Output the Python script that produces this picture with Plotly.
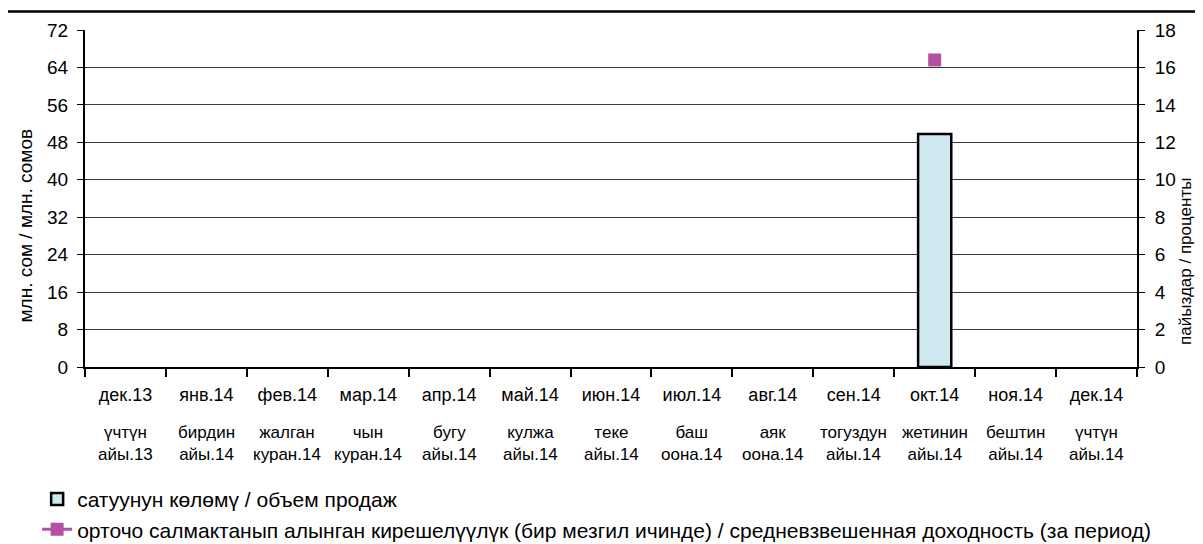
import plotly.graph_objects as go

# Monthly sales volume and weighted average yield
months_ru = ["дек.13", "янв.14", "фев.14", "мар.14", "апр.14", "май.14", "июн.14",
             "июл.14", "авг.14", "сен.14", "окт.14", "ноя.14", "дек.14"]
months_kg = ["үчтүн<br>айы.13", "бирдин<br>айы.14", "жалган<br>куран.14", "чын<br>куран.14",
             "бугу<br>айы.14", "кулжа<br>айы.14", "теке<br>айы.14", "баш<br>оона.14",
             "аяк<br>оона.14", "тогуздун<br>айы.14", "жетинин<br>айы.14", "бештин<br>айы.14",
             "үчтүн<br>айы.14"]
sales_volume = [None, None, None, None, None, None, None, None, None, None, 49.8, None, None]
avg_yield = [None, None, None, None, None, None, None, None, None, None, 16.4, None, None]

name_sales = "сатуунун көлөмү / объем продаж"
name_yield = ("орточо салмактанып алынган кирешелүүлүк (бир мезгил ичинде) / "
              "средневзвешенная доходность (за период)")

FONT = "Liberation Sans, Arial, sans-serif"

fig = go.Figure()

fig.add_trace(go.Bar(
    x=months_ru, y=sales_volume, name=name_sales,
    marker=dict(color="#CDE9EF", line=dict(color="#000000", width=2.5)),
))

fig.add_trace(go.Scatter(
    x=months_ru, y=avg_yield, name=name_yield, yaxis="y2",
    mode="lines+markers",
    line=dict(color="#B54FA3", width=3),
    marker=dict(symbol="square", size=13, color="#B54FA3"),
))

# second row of month names (Kyrgyz), one per category
for m, k in zip(months_ru, months_kg):
    fig.add_annotation(
        x=m, xref="x", y=-0.160, yref="paper", yanchor="top",
        text=k, showarrow=False, align="center",
        font=dict(family=FONT, size=17, color="#000000"),
    )

# axis titles (sit a bit lower than the plot centre in the original)
fig.add_annotation(
    x=-0.057, xref="paper", y=0.42, yref="paper",
    xanchor="center", yanchor="middle", textangle=-90,
    text="млн. сом / млн. сомов", showarrow=False,
    font=dict(family=FONT, size=19, color="#000000"),
)
fig.add_annotation(
    x=1.0466, xref="paper", y=0.312, yref="paper",
    xanchor="center", yanchor="middle", textangle=-90,
    text="пайыздар / проценты", showarrow=False,
    font=dict(family=FONT, size=17, color="#000000"),
)

# outer frame around the whole chart
fig.add_shape(
    type="rect", xref="paper", yref="paper",
    x0=-0.0745, x1=1.07, y0=-0.58, y1=1.055,
    line=dict(color="#000000", width=2.5),
)

# page body adds an 8px offset, so margins are shifted up/left by 8px
fig.update_layout(
    width=1203, height=544,
    margin=dict(l=77, r=74, t=22, b=185, autoexpand=False),
    paper_bgcolor="#FFFFFF", plot_bgcolor="#FFFFFF",
    font=dict(family=FONT, color="#000000"),
    bargap=0.59,
    showlegend=True,
    legend=dict(
        x=-0.0455, y=-0.332, xanchor="left", yanchor="top",
        font=dict(family=FONT, size=21, color="#000000"),
        bgcolor="rgba(0,0,0,0)", tracegroupgap=0,
    ),
    xaxis=dict(
        type="category", range=[-0.5, len(months_ru) - 0.5], tickson="boundaries",
        ticks="outside", ticklen=8, tickcolor="#000000", tickwidth=1.5,
        showline=True, linecolor="#000000", linewidth=2,
        showgrid=False, tickfont=dict(size=18), ticklabelstandoff=10,
    ),
    yaxis=dict(
        range=[0, 72], dtick=8, ticks="outside", ticklen=6, tickcolor="#000000",
        showline=True, linecolor="#000000", linewidth=2,
        showgrid=True, gridcolor="#3a3a3a", gridwidth=1,
        zeroline=False, tickfont=dict(size=19), ticklabelstandoff=5,
    ),
    yaxis2=dict(
        range=[0, 18], dtick=2, overlaying="y", side="right",
        ticks="outside", ticklen=6, tickcolor="#000000",
        showline=True, linecolor="#000000", linewidth=2,
        showgrid=False, zeroline=False, tickfont=dict(size=19), ticklabelstandoff=6,
    ),
)

fig.write_html("out.html")
